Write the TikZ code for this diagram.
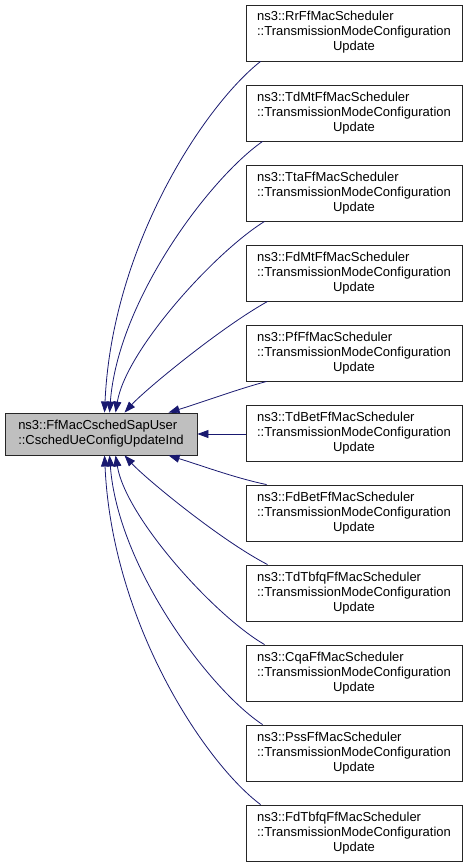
\documentclass[tikz,border=0pt]{standalone}
\usepackage{fontspec}
\setmainfont{Liberation Sans}
\usetikzlibrary{arrows.meta,calc}
\definecolor{edgeblue}{HTML}{191970}
\definecolor{boxgray}{HTML}{BFBFBF}
\tikzset{
  rbox/.style={draw=black!85,line width=0.9pt,fill=white,minimum width=216pt,minimum height=56pt,inner sep=0pt,font=\fontsize{13}{15}\selectfont},
  lbox/.style={draw=black!85,line width=0.9pt,fill=boxgray,minimum width=192pt,minimum height=42pt,inner sep=0pt,align=left,font=\fontsize{13}{15}\selectfont},
  edge/.style={draw=edgeblue,line width=0.8pt,-{Triangle[length=11pt,width=8pt]}}
}
\newcommand{\rtext}[1]{\begin{tabular}{@{}l@{}}ns3::#1\\::TransmissionModeConfiguration\\\multicolumn{1}{@{}c@{}}{Update}\end{tabular}}
\begin{document}
\begin{tikzpicture}[x=1pt,y=-1pt]
\useasboundingbox (0,0) rectangle (469,867);
\node[lbox] (L) at (101,434) {ns3::FfMacCschedSapUser\\::CschedUeConfigUpdateInd};
\node[rbox] (R0) at (354,33) {\rtext{RrFfMacScheduler}};
\node[rbox] (R1) at (354,113) {\rtext{TdMtFfMacScheduler}};
\node[rbox] (R2) at (354,193) {\rtext{TtaFfMacScheduler}};
\node[rbox] (R3) at (354,273) {\rtext{FdMtFfMacScheduler}};
\node[rbox] (R4) at (354,353) {\rtext{PfFfMacScheduler}};
\node[rbox] (R5) at (354,433) {\rtext{TdBetFfMacScheduler}};
\node[rbox] (R6) at (354,513) {\rtext{FdBetFfMacScheduler}};
\node[rbox] (R7) at (354,593) {\rtext{TdTbfqFfMacScheduler}};
\node[rbox] (R8) at (354,673) {\rtext{CqaFfMacScheduler}};
\node[rbox] (R9) at (354,753) {\rtext{PssFfMacScheduler}};
\node[rbox] (R10) at (354,833) {\rtext{FdTbfqFfMacScheduler}};
% upper edges
\draw[edge] ($(R0.south west)+(15,0)$) .. controls (205,105) and (112,245) .. ($(L.north west)+(100,0)$);
\draw[edge] ($(R1.south west)+(17,0)$) .. controls (210,178) and (118,300) .. ($(L.north west)+(105,0)$);
\draw[edge] ($(R2.south west)+(19,0)$) .. controls (215,252) and (126,350) .. ($(L.north west)+(111,0)$);
\draw[edge] ($(R3.south west)+(22,0)$) .. controls (220,328) and (145,390) .. ($(L.north west)+(120,0)$);
\draw[edge] ($(R4.south west)+(21,0)$) .. controls (235,390) and (200,403) .. ($(L.north west)+(164,0)$);
% middle
\draw[edge] (R5.west |- L.east) -- (L.east);
% lower edges
\draw[edge] ($(R6.north west)+(21,0)$) .. controls (235,478) and (200,465) .. ($(L.south west)+(164,0)$);
\draw[edge] ($(R7.north west)+(22,0)$) .. controls (220,540) and (145,478) .. ($(L.south west)+(120,0)$);
\draw[edge] ($(R8.north west)+(19,0)$) .. controls (215,616) and (126,518) .. ($(L.south west)+(111,0)$);
\draw[edge] ($(R9.north west)+(17,0)$) .. controls (210,690) and (118,568) .. ($(L.south west)+(105,0)$);
\draw[edge] ($(R10.north west)+(15,0)$) .. controls (205,763) and (112,623) .. ($(L.south west)+(100,0)$);
\end{tikzpicture}
\end{document}
